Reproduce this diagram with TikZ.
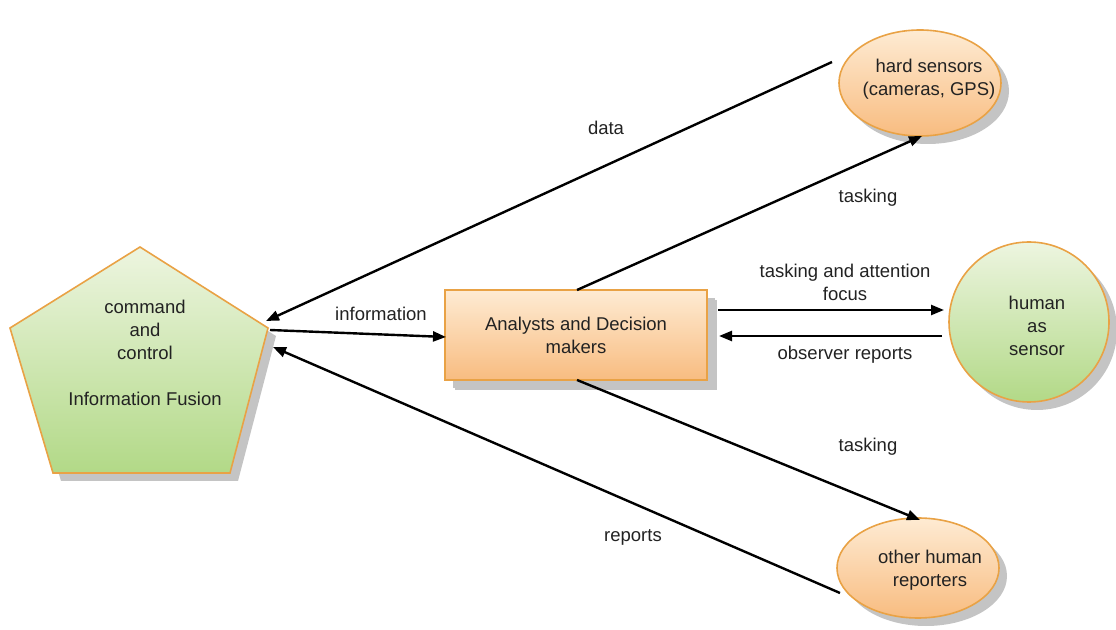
\documentclass[tikz,border=0pt]{standalone}
\usepackage{fontspec}
\setmainfont{Liberation Sans}
\usetikzlibrary{shapes.geometric,arrows.meta,shadows,calc}
\definecolor{obord}{HTML}{E9A245}
\definecolor{otop}{HTML}{FEEBD3}
\definecolor{obot}{HTML}{F8BC80}
\definecolor{gtop}{HTML}{EDF5E0}
\definecolor{gbot}{HTML}{B2D987}
\definecolor{shd}{HTML}{C4C4C4}
\definecolor{txt}{HTML}{222222}
\tikzset{
  x=1pt,y=1pt,
  every node/.style={font=\fontsize{18.5}{23}\selectfont, text=txt},
  oshape/.style={draw=obord, line width=1.6pt, top color=otop, bottom color=obot, align=center, inner sep=0pt,
     drop shadow={shadow xshift=8pt, shadow yshift=-8pt, fill=shd, opacity=1}},
  gshape/.style={draw=obord, line width=1.6pt, top color=gtop, bottom color=gbot, align=center, inner sep=0pt,
     drop shadow={shadow xshift=8pt, shadow yshift=-8pt, fill=shd, opacity=1}},
  conn/.style={line width=2.4pt, draw=black, -{Triangle[length=13pt,width=10pt]}},
  lbl/.style={align=center, inner sep=0pt},
}
\begin{document}
\begin{tikzpicture}
\useasboundingbox (0,0) rectangle (1116,629);
% pentagon
\coordinate (pt) at (140,382);
\coordinate (pr) at (268,301);
\coordinate (pbr) at (230,156);
\coordinate (pbl) at (53,156);
\coordinate (pl) at (10,301);
\fill[shd] (148,374) -- (276,293) -- (238,148) -- (61,148) -- (18,293) -- cycle;
\path[draw=obord, line width=1.6pt, top color=gtop, bottom color=gbot] (pt) -- (pr) -- (pbr) -- (pbl) -- (pl) -- cycle;
\node[lbl] (cc) at (145,276) {command\\and\\control\\[23pt]Information Fusion};
% rectangle
\node[oshape, rectangle, minimum width=262pt, minimum height=90pt,
  drop shadow={shadow xshift=10pt, shadow yshift=-10pt, fill=shd, opacity=1}] (ad) at (576,294) {Analysts and Decision\\makers};
% ellipses
\node[oshape, ellipse, minimum width=162pt, minimum height=106pt] (hs) at (920,546) {};
\node[lbl] (hst) at (929,550) {hard sensors\\(cameras, GPS)};
\node[gshape, circle, minimum size=160pt] (hum) at (1029,307) {};
\node[lbl] (humt) at (1037,303) {human\\as\\sensor};
\node[oshape, ellipse, minimum width=162pt, minimum height=100pt] (oh) at (918,61) {};
\node[lbl] (oht) at (930,59) {other human\\reporters};
% connector end points
\coordinate (dataS) at (832,567);
\coordinate (dataE) at (266,308);
\coordinate (infoS) at (270,299);
\coordinate (infoE) at (446,292);
\coordinate (tkS) at (577,339);
\coordinate (tkE) at (922,493);
\coordinate (taS) at (718,319);
\coordinate (taE) at (944,319);
\coordinate (obS) at (942,293);
\coordinate (obE) at (719,293);
\coordinate (tbS) at (577,249);
\coordinate (tbE) at (920,109);
\coordinate (rpS) at (840,36);
\coordinate (rpE) at (273,282);
\draw[conn] (dataS) -- (dataE);
\draw[conn] (infoS) -- (infoE);
\draw[conn] (tkS) -- (tkE);
\draw[conn] (taS) -- (taE);
\draw[conn] (obS) -- (obE);
\draw[conn] (tbS) -- (tbE);
\draw[conn] (rpS) -- (rpE);
% labels
\node[lbl] (l1) at (606,501) {data};
\node[lbl] (l2) at (868,431) {tasking};
\node[lbl] (l3) at (845,347) {tasking and attention\\focus};
\node[lbl] (l4) at (845,274) {observer reports};
\node[lbl] (l5) at (381,315) {information};
\node[lbl] (l6) at (868,182) {tasking};
\node[lbl] (l7) at (633,92) {reports};
\end{tikzpicture}
\end{document}
